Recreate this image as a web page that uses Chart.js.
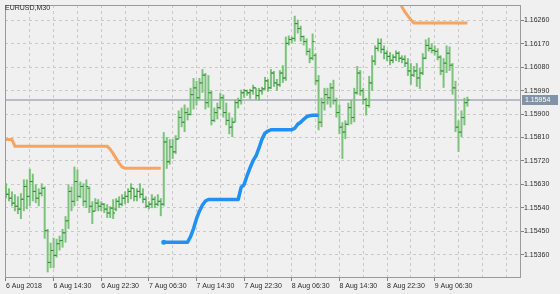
<!DOCTYPE html>
<html>
<head>
<meta charset="utf-8">
<script src="https://cdn.jsdelivr.net/npm/chart.js@4"></script>
<style>
  html, body { margin: 0; padding: 0; background: #f0f0f0; }
  canvas { display: block; }
</style>
</head>
<body>
<canvas id="chart" width="560" height="294"></canvas>
<script>
// Chart data (EURUSD, M30 bars)
const symbolTitle = 'EURUSD,M30';
const timeLabels = ['6 Aug 2018', '6 Aug 14:30', '6 Aug 22:30', '7 Aug 06:30', '7 Aug 14:30',
    '7 Aug 22:30', '8 Aug 06:30', '8 Aug 14:30', '8 Aug 22:30', '9 Aug 06:30'];
const priceTicks = [1.16260, 1.16170, 1.16080, 1.15990, 1.15900, 1.15810, 1.15720, 1.15630, 1.15540, 1.15450, 1.15360];
const lastPrice = 1.15954;

const openPrices = [
    1.15622, 1.15592, 1.15577, 1.15558, 1.15546, 1.15535, 1.15573, 1.15622, 1.15584, 1.15641,
    1.15603, 1.15577, 1.15596, 1.15615, 1.15452, 1.15330, 1.15376, 1.15357, 1.15402, 1.15414,
    1.15444, 1.15490, 1.15603, 1.15565, 1.15641, 1.15584, 1.15622, 1.15565, 1.15615, 1.15546,
    1.15527, 1.15558, 1.15546, 1.15554, 1.15535, 1.15520, 1.15539, 1.15535, 1.15565, 1.15554,
    1.15577, 1.15584, 1.15603, 1.15615, 1.15584, 1.15603, 1.15592, 1.15573, 1.15546, 1.15554,
    1.15573, 1.15554, 1.15565, 1.15554, 1.15793, 1.15717, 1.15774, 1.15755, 1.15804, 1.15887,
    1.15869, 1.15906, 1.15899, 1.15975, 1.16001, 1.15963, 1.16020, 1.16050, 1.15944, 1.15982,
    1.15876, 1.15906, 1.15925, 1.15963, 1.15906, 1.15876, 1.15850, 1.15869, 1.15944, 1.15952,
    1.15982, 1.15990, 1.15982, 1.15990, 1.16001, 1.15971, 1.15990, 1.15997, 1.16028, 1.16001,
    1.16058, 1.16020, 1.16013, 1.16058, 1.16039, 1.16172, 1.16187, 1.16191, 1.16248, 1.16229,
    1.16198, 1.16179, 1.16141, 1.16115, 1.16126, 1.16028, 1.15869, 1.15944, 1.15975, 1.15963,
    1.16001, 1.15952, 1.15906, 1.15850, 1.15831, 1.15861, 1.15925, 1.15887, 1.15982, 1.16058,
    1.15990, 1.15956, 1.15933, 1.16020, 1.16104, 1.16153, 1.16172, 1.16149, 1.16134, 1.16122,
    1.16107, 1.16119, 1.16134, 1.16115, 1.16111, 1.16096, 1.16066, 1.16050, 1.16066, 1.16039,
    1.16058, 1.16115, 1.16164, 1.16153, 1.16145, 1.16141, 1.16119, 1.16066, 1.16096, 1.16134,
    1.16088, 1.16001, 1.15850, 1.15831, 1.15887, 1.15944
];
const highPrices = [
    1.15634, 1.15615, 1.15603, 1.15592, 1.15584, 1.15596, 1.15649, 1.15649, 1.15690, 1.15671,
    1.15630, 1.15615, 1.15634, 1.15622, 1.15459, 1.15406, 1.15425, 1.15421, 1.15433, 1.15459,
    1.15508, 1.15630, 1.15622, 1.15698, 1.15687, 1.15641, 1.15634, 1.15649, 1.15622, 1.15565,
    1.15577, 1.15573, 1.15565, 1.15558, 1.15554, 1.15546, 1.15573, 1.15577, 1.15584, 1.15592,
    1.15603, 1.15615, 1.15634, 1.15615, 1.15615, 1.15634, 1.15615, 1.15584, 1.15565, 1.15592,
    1.15584, 1.15592, 1.15577, 1.15831, 1.15812, 1.15804, 1.15804, 1.15819, 1.15914, 1.15925,
    1.15937, 1.15925, 1.16001, 1.16039, 1.16028, 1.16039, 1.16073, 1.16058, 1.16050, 1.15990,
    1.15925, 1.15944, 1.15982, 1.15975, 1.15944, 1.15906, 1.15887, 1.15956, 1.15963, 1.15994,
    1.15997, 1.15994, 1.15997, 1.16013, 1.16001, 1.16001, 1.16005, 1.16043, 1.16035, 1.16073,
    1.16066, 1.16035, 1.16069, 1.16088, 1.16198, 1.16202, 1.16198, 1.16278, 1.16263, 1.16240,
    1.16202, 1.16191, 1.16153, 1.16210, 1.16134, 1.16050, 1.15963, 1.16001, 1.16001, 1.16020,
    1.16032, 1.15963, 1.15937, 1.15869, 1.15876, 1.15944, 1.15956, 1.16001, 1.16085, 1.16069,
    1.16001, 1.15963, 1.16047, 1.16126, 1.16164, 1.16191, 1.16191, 1.16164, 1.16145, 1.16138,
    1.16130, 1.16145, 1.16141, 1.16126, 1.16126, 1.16115, 1.16096, 1.16085, 1.16096, 1.16077,
    1.16134, 1.16187, 1.16194, 1.16172, 1.16164, 1.16153, 1.16126, 1.16115, 1.16164, 1.16160,
    1.16096, 1.16028, 1.15876, 1.15914, 1.15963, 1.15967
];
const lowPrices = [
    1.15577, 1.15565, 1.15546, 1.15527, 1.15516, 1.15497, 1.15527, 1.15535, 1.15546, 1.15565,
    1.15558, 1.15546, 1.15584, 1.15421, 1.15292, 1.15308, 1.15308, 1.15349, 1.15376, 1.15387,
    1.15406, 1.15459, 1.15527, 1.15546, 1.15565, 1.15577, 1.15546, 1.15539, 1.15520, 1.15478,
    1.15527, 1.15527, 1.15527, 1.15520, 1.15501, 1.15501, 1.15497, 1.15527, 1.15539, 1.15546,
    1.15554, 1.15558, 1.15573, 1.15565, 1.15565, 1.15577, 1.15558, 1.15539, 1.15535, 1.15539,
    1.15539, 1.15546, 1.15508, 1.15546, 1.15690, 1.15706, 1.15728, 1.15747, 1.15804, 1.15850,
    1.15831, 1.15876, 1.15895, 1.15918, 1.15933, 1.15956, 1.15982, 1.15918, 1.15925, 1.15857,
    1.15869, 1.15880, 1.15918, 1.15887, 1.15857, 1.15823, 1.15812, 1.15869, 1.15922, 1.15937,
    1.15963, 1.15971, 1.15959, 1.15975, 1.15956, 1.15952, 1.15975, 1.15994, 1.15986, 1.15997,
    1.16005, 1.15990, 1.16005, 1.16020, 1.16028, 1.16164, 1.16172, 1.16179, 1.16210, 1.16179,
    1.16164, 1.16126, 1.16096, 1.16107, 1.16013, 1.15838, 1.15850, 1.15914, 1.15937, 1.15925,
    1.15937, 1.15887, 1.15823, 1.15728, 1.15804, 1.15857, 1.15861, 1.15869, 1.15975, 1.15971,
    1.15937, 1.15895, 1.15925, 1.15990, 1.16088, 1.16141, 1.16134, 1.16111, 1.16104, 1.16088,
    1.16096, 1.16104, 1.16100, 1.16096, 1.16081, 1.16047, 1.16013, 1.16043, 1.16005, 1.15997,
    1.16050, 1.16111, 1.16141, 1.16134, 1.16126, 1.16107, 1.16050, 1.16001, 1.16058, 1.16066,
    1.15975, 1.15831, 1.15755, 1.15812, 1.15857, 1.15929
];
const closePrices = [
    1.15592, 1.15577, 1.15558, 1.15546, 1.15535, 1.15573, 1.15622, 1.15584, 1.15641, 1.15603,
    1.15577, 1.15596, 1.15615, 1.15452, 1.15330, 1.15376, 1.15357, 1.15402, 1.15414, 1.15444,
    1.15490, 1.15603, 1.15565, 1.15641, 1.15584, 1.15622, 1.15565, 1.15622, 1.15546, 1.15527,
    1.15558, 1.15546, 1.15554, 1.15535, 1.15520, 1.15539, 1.15520, 1.15565, 1.15554, 1.15577,
    1.15584, 1.15603, 1.15615, 1.15584, 1.15603, 1.15592, 1.15573, 1.15546, 1.15554, 1.15573,
    1.15554, 1.15565, 1.15554, 1.15793, 1.15717, 1.15774, 1.15755, 1.15804, 1.15887, 1.15869,
    1.15906, 1.15899, 1.15975, 1.16001, 1.15963, 1.16020, 1.16050, 1.15944, 1.15982, 1.15876,
    1.15906, 1.15925, 1.15963, 1.15906, 1.15876, 1.15850, 1.15869, 1.15944, 1.15952, 1.15982,
    1.15990, 1.15982, 1.15990, 1.16001, 1.15971, 1.15990, 1.15997, 1.16028, 1.16001, 1.16058,
    1.16020, 1.16013, 1.16058, 1.16039, 1.16172, 1.16187, 1.16191, 1.16248, 1.16229, 1.16198,
    1.16179, 1.16141, 1.16115, 1.16179, 1.16028, 1.15869, 1.15944, 1.15975, 1.15963, 1.16001,
    1.15952, 1.15906, 1.15850, 1.15831, 1.15861, 1.15925, 1.15887, 1.15982, 1.16058, 1.15990,
    1.15956, 1.15933, 1.16020, 1.16104, 1.16153, 1.16172, 1.16149, 1.16134, 1.16122, 1.16107,
    1.16119, 1.16134, 1.16115, 1.16111, 1.16096, 1.16066, 1.16050, 1.16066, 1.16039, 1.16058,
    1.16115, 1.16164, 1.16153, 1.16145, 1.16141, 1.16119, 1.16066, 1.16096, 1.16134, 1.16088,
    1.16001, 1.15850, 1.15831, 1.15887, 1.15944, 1.15954
];

// Indicator lines, each starting at a bar index
const blueStart = 53;
const blueLine = [
    1.15408, 1.15408, 1.15408, 1.15408, 1.15408, 1.15408, 1.15408, 1.15408, 1.15408,
    1.15429, 1.15460, 1.15498, 1.15528, 1.15551, 1.15566,
    1.15572, 1.15572, 1.15572, 1.15572, 1.15572, 1.15572, 1.15572, 1.15572, 1.15572, 1.15572, 1.15572,
    1.15619, 1.15630, 1.15664, 1.15694, 1.15721, 1.15740, 1.15770, 1.15804, 1.15827, 1.15835,
    1.15840, 1.15840, 1.15840, 1.15840, 1.15840, 1.15840, 1.15840, 1.15840,
    1.15846, 1.15861, 1.15869, 1.15880, 1.15890, 1.15894,
    1.15896, 1.15896, 1.15896
];
const orangeStartA = 0;
const orangeLineA = [
    1.15803, 1.15803, 1.15803,
    1.15777, 1.15777, 1.15777, 1.15777, 1.15777, 1.15777, 1.15777, 1.15777, 1.15777, 1.15777, 1.15777,
    1.15777, 1.15777, 1.15777, 1.15777, 1.15777, 1.15777, 1.15777, 1.15777, 1.15777, 1.15777, 1.15777,
    1.15777, 1.15777, 1.15777, 1.15777, 1.15777, 1.15777, 1.15777, 1.15777, 1.15777, 1.15777,
    1.15765, 1.15748, 1.15730, 1.15712, 1.15697,
    1.15692, 1.15692, 1.15692, 1.15692, 1.15692, 1.15692, 1.15692, 1.15692, 1.15692, 1.15692,
    1.15692, 1.15692, 1.15692
];
const orangeStartB = 131;
const orangeLineB = [
    1.16370, 1.16342, 1.16312, 1.16293, 1.16278, 1.16263,
    1.16250, 1.16250, 1.16250, 1.16250, 1.16250, 1.16250, 1.16250, 1.16250, 1.16250, 1.16250,
    1.16250, 1.16250, 1.16250, 1.16250, 1.16250, 1.16250, 1.16250, 1.16250, 1.16250
];

const barColor = '#7cc27c';
const tickMarkColor = '#2e8b2e';
const fontFamily = '"Liberation Sans", Arial, sans-serif';
const textColor = '#2b2b2b';

function toPoints(start, values) {
    return values.map((v, k) => ({ x: start + k, y: v }));
}

// High-low range of every bar, open tick on the left, close tick on the right
const highLow = lowPrices.map((lo, i) => ({ x: i, y: [lo, highPrices[i]] }));
const openTicks = openPrices.map((v, i) => ({ x: i - 1 / 3, y: v }));
const closeTicks = closePrices.map((v, i) => ({ x: i + 1 / 3, y: v }));

// Frame, symbol title and the price label on the right axis
const terminalPlugin = {
    id: 'terminal',
    afterDraw(chart) {
        const { ctx, chartArea: a, scales } = chart;
        ctx.save();
        ctx.strokeStyle = '#9a9a9a';
        ctx.lineWidth = 1;
        ctx.strokeRect(a.left + 0.5, a.top + 0.5, a.right - a.left - 1, a.bottom - a.top - 1);
        ctx.font = '7px ' + fontFamily;
        ctx.textBaseline = 'middle';
        ctx.fillStyle = textColor;
        ctx.fillText(symbolTitle, 5, 8);
        const py = Math.round(scales.y.getPixelForValue(lastPrice));
        ctx.fillStyle = '#8193a8';
        ctx.fillRect(a.right + 1, py - 5, 36, 10);
        ctx.fillStyle = '#ffffff';
        ctx.fillText(lastPrice.toFixed(5), a.right + 4, py);
        ctx.restore();
    }
};

const ctx = document.getElementById('chart').getContext('2d');
const priceChart = new Chart(ctx, {
    type: 'bar',
    data: {
        datasets: [
            {
                type: 'line',
                data: [{ x: -1, y: lastPrice }, { x: 175, y: lastPrice }],
                borderColor: '#a3adb8',
                borderWidth: 1.5,
                pointRadius: 0,
                order: 6
            },
            {
                type: 'bar',
                data: highLow,
                backgroundColor: barColor,
                borderWidth: 0,
                barThickness: 2,
                grouped: false,
                inflateAmount: 0,
                order: 3
            },
            {
                type: 'line',
                data: openTicks,
                showLine: false,
                pointStyle: 'line',
                pointRadius: 1,
                pointBorderColor: tickMarkColor,
                pointBorderWidth: 1,
                order: 2
            },
            {
                type: 'line',
                data: closeTicks,
                showLine: false,
                pointStyle: 'line',
                pointRadius: 1,
                pointBorderColor: tickMarkColor,
                pointBorderWidth: 1,
                order: 2
            },
            {
                type: 'line',
                data: toPoints(orangeStartA, orangeLineA),
                borderColor: '#f5a461',
                borderWidth: 3,
                pointRadius: 0,
                tension: 0,
                order: 1
            },
            {
                type: 'line',
                data: toPoints(orangeStartB, orangeLineB),
                borderColor: '#f5a461',
                borderWidth: 3,
                pointRadius: 0,
                tension: 0,
                order: 1
            },
            {
                type: 'line',
                data: toPoints(blueStart, blueLine),
                borderColor: '#2090f5',
                borderWidth: 3.5,
                borderJoinStyle: 'round',
                pointRadius: c => c.dataIndex === 0 ? 2.5 : 0,
                pointBackgroundColor: '#2090f5',
                pointBorderWidth: 0,
                tension: 0,
                order: 1
            }
        ]
    },
    options: {
        responsive: false,
        animation: false,
        devicePixelRatio: 1,
        events: [],
        layout: { padding: { left: 1, top: 1, right: 0, bottom: 0 } },
        plugins: { legend: { display: false }, tooltip: { enabled: false } },
        scales: {
            x: {
                type: 'linear',
                position: 'bottom',
                min: -1 / 3,
                max: 173,
                offset: false,
                grid: {
                    color: '#c9c9c9',
                    offset: false,
                    tickLength: 3,
                    tickColor: c => (c.index % 2 === 0 && c.index / 2 < timeLabels.length) ? '#808080' : 'rgba(0,0,0,0)'
                },
                border: { display: false, dash: [3, 3] },
                ticks: {
                    autoSkip: false,
                    maxRotation: 0,
                    align: 'start',
                    padding: 1,
                    color: textColor,
                    font: { family: fontFamily, size: 7 },
                    callback: (value, index) => (index % 2 === 0 && timeLabels[index / 2]) ? timeLabels[index / 2] : ''
                },
                afterBuildTicks: scale => {
                    const ticks = [];
                    for (let v = 0; v <= 168; v += 8) ticks.push({ value: v });
                    scale.ticks = ticks;
                },
                afterFit: scale => {
                    scale.height = 16;
                    scale.paddingLeft = 0;
                    scale.paddingRight = 0;
                }
            },
            y: {
                type: 'linear',
                position: 'right',
                min: 1.1527023,
                max: 1.1631947,
                grid: { color: '#c9c9c9', tickLength: 3, tickColor: '#808080' },
                border: { display: false, dash: [3, 3] },
                ticks: {
                    padding: 0,
                    color: textColor,
                    font: { family: fontFamily, size: 7 },
                    callback: value => value.toFixed(5)
                },
                afterBuildTicks: scale => {
                    scale.ticks = priceTicks.map(v => ({ value: v }));
                },
                afterFit: scale => {
                    scale.width = 39;
                    scale.paddingTop = 0;
                    scale.paddingBottom = 0;
                }
            }
        }
    },
    plugins: [terminalPlugin]
});
</script>
</body>
</html>
